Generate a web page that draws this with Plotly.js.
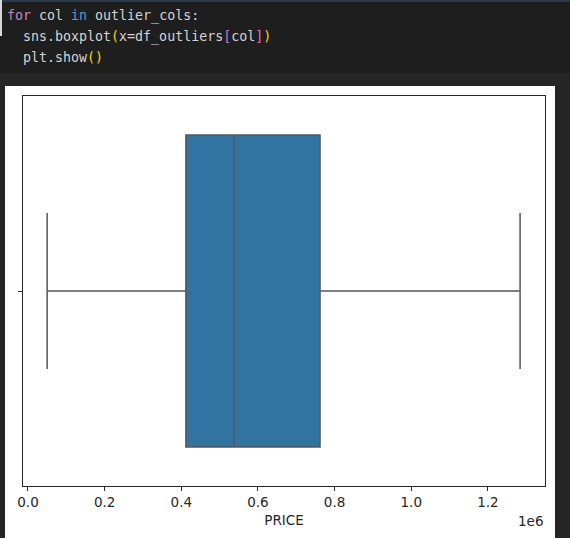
<!DOCTYPE html>
<html>
<head>
<meta charset="utf-8">
<script src="https://cdn.plot.ly/plotly-3.0.1.min.js"></script>
<style>
  html, body { margin:0; padding:0; width:570px; height:538px; overflow:hidden; background:#262626; }
  #code { position:absolute; left:0; top:0; width:570px; height:73px; background:#1e1e1e; border-top:2px solid #2a3a4a; box-sizing:border-box; }
  #focus { position:absolute; left:0; top:0; width:2px; height:36px; background:#d8d8d8; }
  pre { position:absolute; left:7px; top:5px; margin:0; font-family:"DejaVu Sans Mono", monospace; font-size:13.3px; line-height:21px; color:#d4d4d4; }
  .kw1 { color:#c586c0; } .kw2 { color:#569cd6; } .p1 { color:#ffd700; } .p2 { color:#da70d6; }
  #plotwrap { position:absolute; left:5px; top:86px; width:550px; height:452px; background:#ffffff; }
</style>
</head>
<body>
<div id="code"></div>
<div id="focus"></div>
<pre><span class="kw1">for</span> col <span class="kw2">in</span> outlier_cols:
  sns.boxplot<span class="p1">(</span>x=df_outliers<span class="p2">[</span>col<span class="p2">]</span><span class="p1">)</span>
  plt.show<span class="p1">()</span></pre>
<div id="plotwrap"><div id="chart"></div></div>
<script>
// Data
const categories = ['PRICE'];
const lowerFence = [50000];
const q1Values = [412000];
const medianValues = [537000];
const q3Values = [762000];
const upperFence = [1284000];
const tickValues = [0, 200000, 400000, 600000, 800000, 1000000, 1200000];
const tickLabels = ['0.0', '0.2', '0.4', '0.6', '0.8', '1.0', '1.2'];

const trace = {
  type: 'box',
  orientation: 'h',
  y: [0],
  q1: q1Values,
  median: medianValues,
  q3: q3Values,
  lowerfence: lowerFence,
  upperfence: upperFence,
  width: 0.8,
  whiskerwidth: 0.5,
  fillcolor: '#3274a1',
  line: { color: '#575757', width: 1.5 },
  boxpoints: false,
  hoverinfo: 'skip',
  showlegend: false
};

const font = { family: 'DejaVu Sans, sans-serif', size: 13.5, color: '#262626' };

const layout = {
  width: 550, height: 452,
  margin: { l: 18, r: 10, t: 10, b: 52 },
  paper_bgcolor: '#ffffff',
  plot_bgcolor: '#ffffff',
  font: font,
  showlegend: false,
  xaxis: {
    range: [-13000, 1349000],
    tickvals: tickValues,
    ticktext: tickLabels,
    ticks: 'outside', ticklen: 4, tickwidth: 1, tickcolor: '#262626',
    showline: true, linecolor: '#262626', linewidth: 1, mirror: true,
    showgrid: false, zeroline: false,
    tickfont: font,
    title: { text: categories[0], font: font, standoff: 6 }
  },
  yaxis: {
    range: [-0.5, 0.5],
    tickvals: [0], ticktext: [''],
    ticks: 'outside', ticklen: 4, tickwidth: 1, tickcolor: '#262626',
    showline: true, linecolor: '#262626', linewidth: 1, mirror: true,
    showgrid: false, zeroline: false
  },
  annotations: [{
    text: '1e6', xref: 'paper', yref: 'paper', x: 1, y: 0,
    xanchor: 'right', yanchor: 'top', yshift: -25, showarrow: false, font: font
  }]
};

Plotly.newPlot('chart', [trace], layout, { displayModeBar: false, staticPlot: true });
</script>
</body>
</html>
